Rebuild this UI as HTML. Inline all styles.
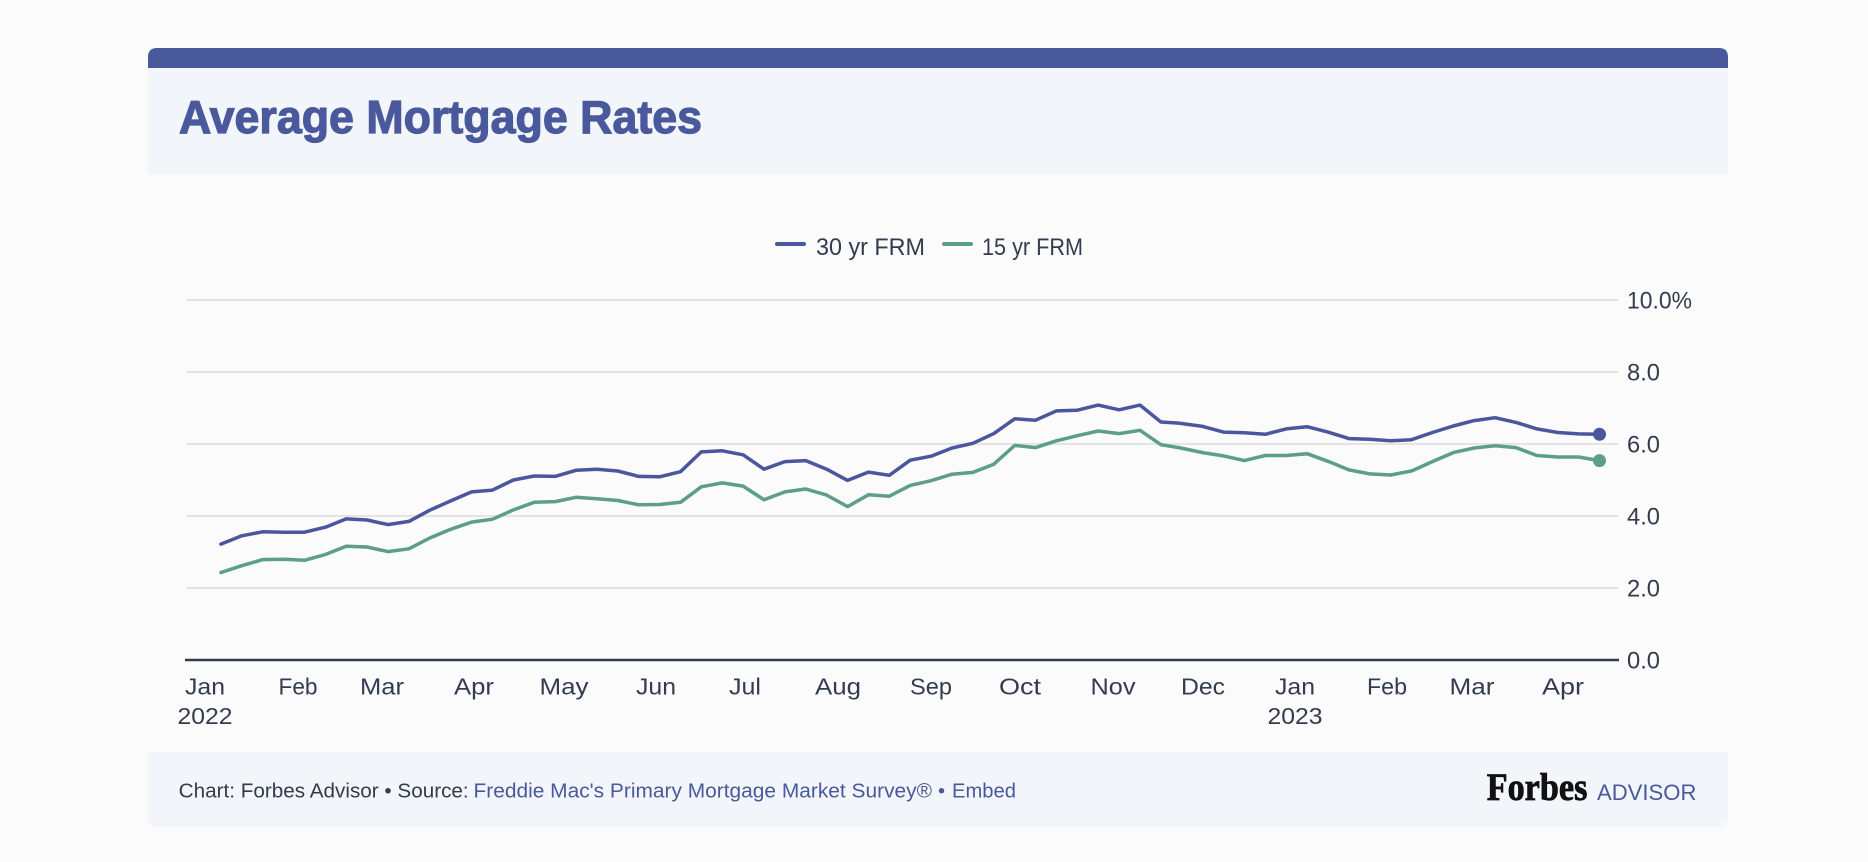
<!DOCTYPE html>
<html><head><meta charset="utf-8"><style>
html,body{margin:0;padding:0;background:#fbfbfc;}
svg{display:block;}
text{font-family:"Liberation Sans",sans-serif;}
</style></head><body>
<svg width="1868" height="862" viewBox="0 0 1868 862" xmlns="http://www.w3.org/2000/svg">
<rect x="0" y="0" width="1868" height="862" fill="#fbfbfc"/>
<!-- top bar -->
<path d="M148,68 L148,57 Q148,48 157,48 L1719,48 Q1728,48 1728,57 L1728,68 Z" fill="#4a589c"/>
<rect x="148" y="68" width="1580" height="106" fill="#f2f5fa"/>
<text x="179" y="133" font-size="46" font-weight="bold" fill="#4a589c" stroke="#4a589c" stroke-width="1.2" textLength="523" lengthAdjust="spacingAndGlyphs">Average Mortgage Rates</text>

<!-- legend -->
<line x1="777" y1="244" x2="804" y2="244" stroke="#4a579e" stroke-width="4" stroke-linecap="round"/>
<text x="816" y="255" font-size="24" fill="#333c4e" textLength="109" lengthAdjust="spacingAndGlyphs">30 yr FRM</text>
<line x1="944" y1="244" x2="971" y2="244" stroke="#5c9e89" stroke-width="4" stroke-linecap="round"/>
<text x="982" y="255" font-size="24" fill="#333c4e" textLength="101" lengthAdjust="spacingAndGlyphs">15 yr FRM</text>

<!-- gridlines -->
<g stroke="#e4e4e6" stroke-width="2">
<line x1="186" y1="300" x2="1618" y2="300"/>
<line x1="186" y1="372" x2="1618" y2="372"/>
<line x1="186" y1="444" x2="1618" y2="444"/>
<line x1="186" y1="516" x2="1618" y2="516"/>
<line x1="186" y1="588" x2="1618" y2="588"/>
</g>
<line x1="185" y1="660" x2="1619" y2="660" stroke="#333c4e" stroke-width="2.5"/>

<!-- y labels -->
<g font-size="24" fill="#333c4e">
<text x="1627" y="308.5" textLength="65" lengthAdjust="spacingAndGlyphs">10.0%</text>
<text x="1627" y="380.5" textLength="33" lengthAdjust="spacingAndGlyphs">8.0</text>
<text x="1627" y="452.5" textLength="33" lengthAdjust="spacingAndGlyphs">6.0</text>
<text x="1627" y="524.5" textLength="33" lengthAdjust="spacingAndGlyphs">4.0</text>
<text x="1627" y="596.5" textLength="33" lengthAdjust="spacingAndGlyphs">2.0</text>
<text x="1627" y="668.5" textLength="33" lengthAdjust="spacingAndGlyphs">0.0</text>
</g>

<!-- x labels -->
<g font-size="23" fill="#333c4e" text-anchor="middle">
<text x="205" y="694.5" textLength="40" lengthAdjust="spacingAndGlyphs">Jan</text>
<text x="205" y="724" textLength="55" lengthAdjust="spacingAndGlyphs">2022</text>
<text x="298" y="694.5" textLength="39" lengthAdjust="spacingAndGlyphs">Feb</text>
<text x="382" y="694.5" textLength="44" lengthAdjust="spacingAndGlyphs">Mar</text>
<text x="474" y="694.5" textLength="40" lengthAdjust="spacingAndGlyphs">Apr</text>
<text x="564" y="694.5" textLength="49" lengthAdjust="spacingAndGlyphs">May</text>
<text x="656" y="694.5" textLength="40" lengthAdjust="spacingAndGlyphs">Jun</text>
<text x="745" y="694.5" textLength="32" lengthAdjust="spacingAndGlyphs">Jul</text>
<text x="838" y="694.5" textLength="46" lengthAdjust="spacingAndGlyphs">Aug</text>
<text x="931" y="694.5" textLength="42" lengthAdjust="spacingAndGlyphs">Sep</text>
<text x="1020" y="694.5" textLength="42" lengthAdjust="spacingAndGlyphs">Oct</text>
<text x="1113" y="694.5" textLength="45" lengthAdjust="spacingAndGlyphs">Nov</text>
<text x="1203" y="694.5" textLength="44" lengthAdjust="spacingAndGlyphs">Dec</text>
<text x="1295" y="694.5" textLength="40" lengthAdjust="spacingAndGlyphs">Jan</text>
<text x="1295" y="724" textLength="55" lengthAdjust="spacingAndGlyphs">2023</text>
<text x="1387" y="694.5" textLength="40" lengthAdjust="spacingAndGlyphs">Feb</text>
<text x="1472" y="694.5" textLength="45" lengthAdjust="spacingAndGlyphs">Mar</text>
<text x="1563" y="694.5" textLength="42" lengthAdjust="spacingAndGlyphs">Apr</text>
</g>

<!-- 15 yr series -->
<polyline fill="none" stroke="#5c9e89" stroke-width="3.5" stroke-linejoin="round" stroke-linecap="round" points="
220.9,572.5 241.8,565.7 262.7,559.6 283.6,559.2 304.5,560.3 325.4,554.5 346.2,546.2 367.1,547.0
388.0,551.6 408.9,548.8 429.8,538.0 450.7,529.3 471.6,522.1 492.5,519.2 513.4,509.9 534.2,502.3
555.1,501.6 576.0,497.3 596.9,498.7 617.8,500.5 638.7,504.8 659.6,504.5 680.5,502.3 701.3,486.8
722.2,482.9 743.1,486.1 764.0,499.8 784.9,491.9 805.8,489.0 826.7,495.1 847.6,506.6 868.4,494.8
889.3,496.2 910.2,485.4 931.1,480.7 952.0,474.2 972.9,472.4 993.8,464.2 1014.7,445.4 1035.6,447.6
1056.4,440.8 1077.3,435.7 1098.2,431.0 1119.1,433.6 1140.0,430.3 1160.9,444.7 1178.8,447.6 1202.7,452.6
1223.5,455.9 1244.4,460.6 1265.3,455.5 1286.2,455.5 1307.1,453.7 1328.0,461.3 1348.9,469.9 1369.8,473.9
1390.6,475.0 1411.5,471.0 1432.4,461.6 1453.3,452.6 1474.2,448.0 1495.1,445.8 1516.0,447.6 1536.9,455.5
1557.8,457.0 1578.6,457.0 1599.5,460.6"/>
<circle cx="1599.5" cy="460.6" r="6.5" fill="#5c9e89"/>

<!-- 30 yr series -->
<polyline fill="none" stroke="#4a579e" stroke-width="3.5" stroke-linejoin="round" stroke-linecap="round" points="
220.9,544.1 241.8,535.8 262.7,531.8 283.6,532.2 304.5,532.2 325.4,527.2 346.2,518.9 367.1,520.0
388.0,524.6 408.9,521.4 429.8,510.2 450.7,500.9 471.6,491.9 492.5,490.1 513.4,480.0 534.2,476.0
555.1,476.4 576.0,470.3 596.9,469.2 617.8,471.0 638.7,476.4 659.6,476.8 680.5,471.7 701.3,451.9
722.2,450.8 743.1,454.8 764.0,469.2 784.9,461.6 805.8,460.6 826.7,469.2 847.6,480.4 868.4,472.1
889.3,475.3 910.2,460.2 931.1,456.2 952.0,448.0 972.9,443.3 993.8,433.6 1014.7,418.8 1035.6,420.2
1056.4,410.9 1077.3,410.2 1098.2,405.1 1119.1,409.8 1140.0,405.1 1160.9,422.0 1178.8,423.1 1202.7,426.4
1223.5,432.1 1244.4,432.8 1265.3,434.3 1286.2,428.9 1307.1,426.7 1328.0,432.1 1348.9,438.6 1369.8,439.3
1390.6,440.8 1411.5,439.7 1432.4,432.5 1453.3,426.0 1474.2,420.6 1495.1,417.7 1516.0,422.4 1536.9,428.9
1557.8,432.5 1578.6,433.9 1599.5,434.3"/>
<circle cx="1599.5" cy="434.3" r="6.5" fill="#4a579e"/>

<!-- footer -->
<path d="M148,752 L1728,752 L1728,817 Q1728,827 1718,827 L158,827 Q148,827 148,817 Z" fill="#f2f5fa"/>
<g font-size="20">
<text x="178.7" y="797.3" fill="#333c4e" textLength="290" lengthAdjust="spacingAndGlyphs">Chart: Forbes Advisor • Source:</text>
<text x="473.5" y="797.3" fill="#4a589c" textLength="458.5" lengthAdjust="spacingAndGlyphs">Freddie Mac's Primary Mortgage Market Survey®</text>
<text x="938" y="797.3" fill="#4a589c">•</text>
<text x="952" y="797.3" fill="#4a589c" textLength="64" lengthAdjust="spacingAndGlyphs">Embed</text>
</g>
<text x="1486.7" y="800" font-weight="bold" font-size="39" fill="#111" stroke="#111" stroke-width="0.8" textLength="100.7" lengthAdjust="spacingAndGlyphs" style="font-family:'Liberation Serif',serif">Forbes</text>
<text x="1597" y="800" font-size="22" fill="#4a589c" textLength="99.4" lengthAdjust="spacingAndGlyphs">ADVISOR</text>
</svg>
</body></html>
